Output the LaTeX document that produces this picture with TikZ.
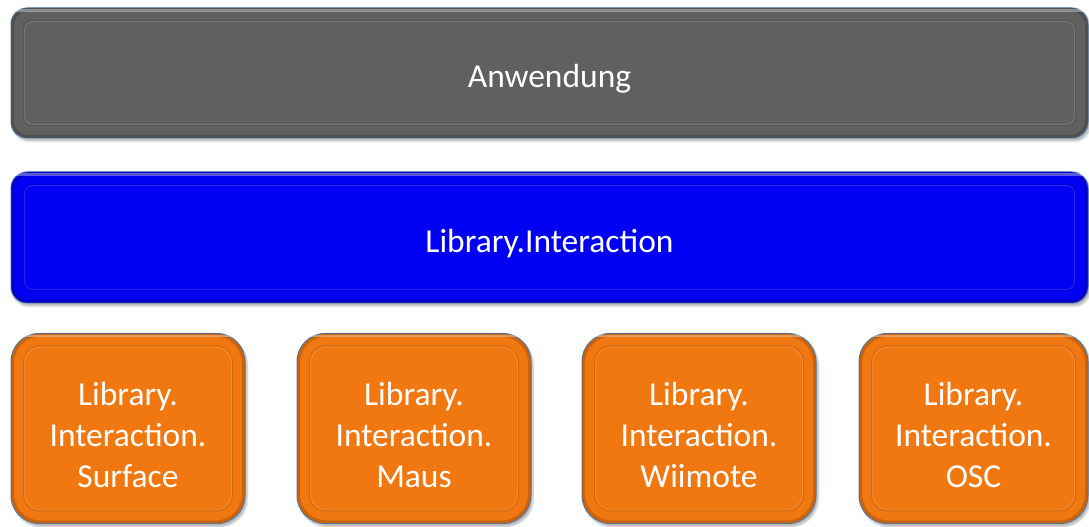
\documentclass[tikz,border=0pt]{standalone}
\usepackage{fontspec}
\setmainfont{Carlito}
\usetikzlibrary{shadows.blur}

\definecolor{appgray}{RGB}{96,96,96}
\definecolor{libblue}{RGB}{0,0,242}
\definecolor{modorange}{RGB}{241,120,17}
\definecolor{rimblue}{RGB}{79,120,170}

\tikzset{
  layer/.style={
    draw=rimblue, line width=1pt, rounded corners=#1,
    blur shadow={shadow xshift=2pt, shadow yshift=-3pt, shadow blur steps=6, shadow opacity=30},
    inner sep=0pt
  },
  caption/.style={text=white, align=center, yshift=-6pt,
    font=\fontsize{33.5}{41}\selectfont},
  bevel/.style={line width=1pt, rounded corners=#1},
}

% draws the darker rim and the lighter inner ridge of a box
\newcommand{\bevelbox}[4]{%
  \draw[bevel=#3, draw=#2!70!black, line width=3pt, opacity=0.55]
    ([shift={(2pt,2pt)}]#1.south west) rectangle ([shift={(-2pt,-2pt)}]#1.north east);
  \draw[bevel=#3, draw=white, opacity=0.35, line width=2.5pt]
    ([shift={(3pt,-3pt)}]#1.north west) -- ([shift={(-3pt,-3pt)}]#1.north east);
  \draw[bevel=#4, draw=#2!85!white]
    ([shift={(14pt,14pt)}]#1.south west) rectangle ([shift={(-14pt,-14pt)}]#1.north east);
  \draw[bevel=#4, draw=#2!80!black, opacity=0.6]
    ([shift={(13pt,13pt)}]#1.south west) rectangle ([shift={(-13pt,-13pt)}]#1.north east);
}

\begin{document}
\begin{tikzpicture}[x=1pt,y=1pt]
\useasboundingbox (0,0) rectangle (1089,527);

\node[layer=16pt, fill=appgray, minimum width=1077pt, minimum height=130pt,
  label={[caption]center:Anwendung}] (app) at (549.5,454) {};
\bevelbox{app}{appgray}{16pt}{8pt}

\node[layer=16pt, fill=libblue, minimum width=1077pt, minimum height=131pt,
  label={[caption]center:Library.Interaction}] (lib) at (549.5,289.5) {};
\bevelbox{lib}{libblue}{16pt}{8pt}

\foreach \n/\l/\r/\t in {surf/11/245/Surface, maus/297/531/Maus, wii/582/816/Wiimote, osc/859/1088/OSC}{
  \node[layer=28pt, fill=modorange, minimum width={\r-\l}, minimum height=190pt,
    label={[caption]center:Library.\\Interaction.\\\t}] (\n) at ({(\l+\r)/2},98.5) {};
  \bevelbox{\n}{modorange}{28pt}{16pt}
}
\end{tikzpicture}
\end{document}
